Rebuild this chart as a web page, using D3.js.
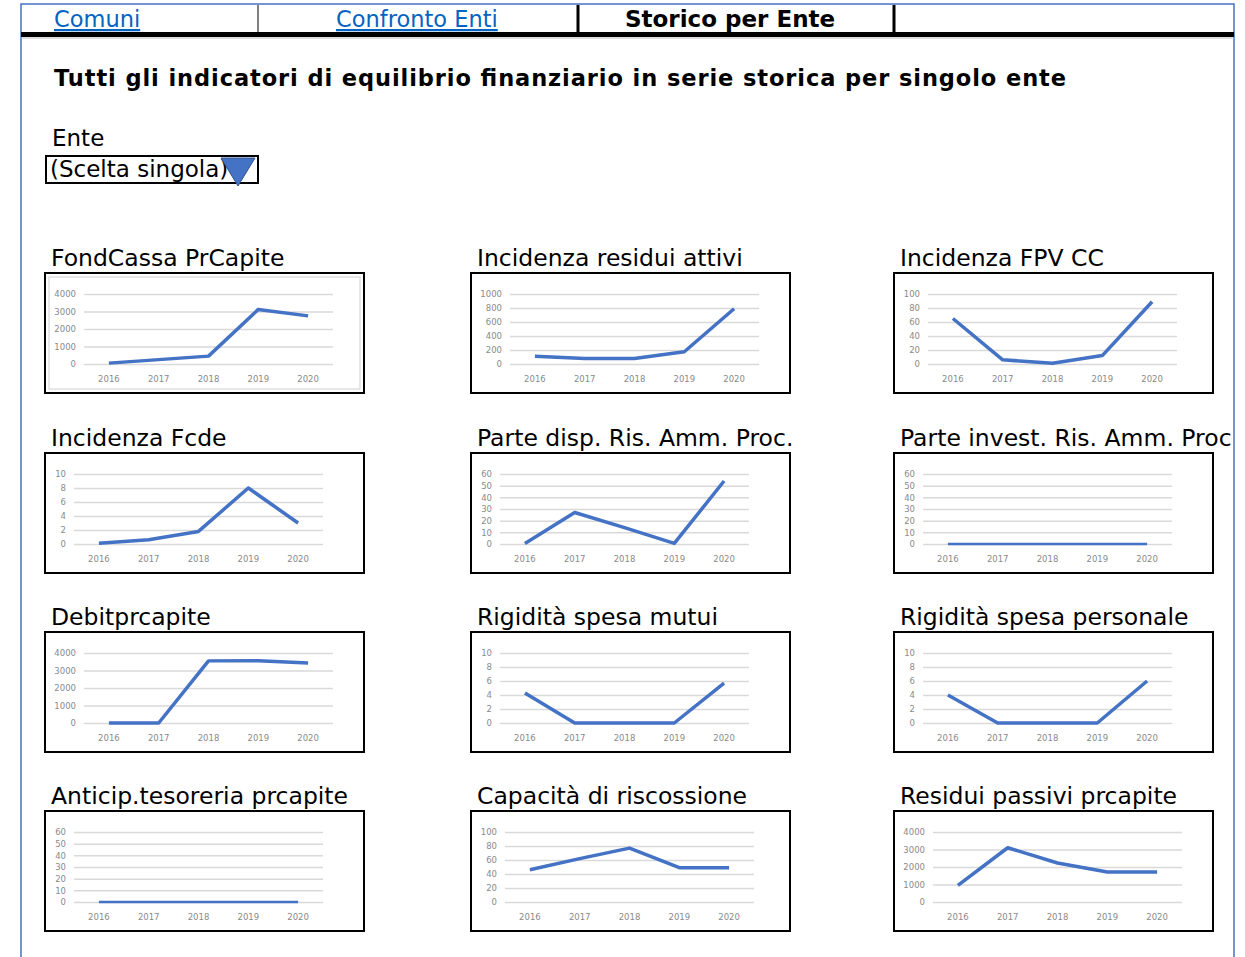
<!DOCTYPE html>
<html>
<head>
<meta charset="utf-8">
<script src="https://cdn.jsdelivr.net/npm/d3@7"></script>
<style>
  body { margin: 0; background: #fff; }
  svg { display: block; font-family: "DejaVu Sans", sans-serif; }
</style>
</head>
<body>
<div id="page"></div>
<script>
// Tabs and headings
const tabs = ["Comuni", "Confronto Enti", "Storico per Ente"];
const years = ["2016", "2017", "2018", "2019", "2020"];

// One title per small chart, read row by row
const titles = [
  "FondCassa PrCapite", "Incidenza residui attivi", "Incidenza FPV CC",
  "Incidenza Fcde", "Parte disp. Ris. Amm. Proc.", "Parte invest. Ris. Amm. Proc",
  "Debitprcapite", "Rigidità spesa mutui", "Rigidità spesa personale",
  "Anticip.tesoreria prcapite", "Capacità di riscossione", "Residui passivi prcapite"
];

// Series values
const fondCassa       = [50, 250, 450, 3120, 2750];
const residuiAttivi   = [110, 80, 80, 175, 790];
const fpvCC           = [65, 6, 1, 12, 89];
const fcde            = [0.1, 0.6, 1.8, 8.0, 3.0];
const parteDisp       = [0.5, 27, 14, 0.5, 54];
const parteInvest     = [0, 0, 0, 0, 0];
const debito          = [0, 0, 3550, 3560, 3430];
const rigMutui        = [4.3, 0, 0, 0, 5.7];
const rigPersonale    = [4.0, 0, 0, 0, 6.0];
const anticipTes      = [0, 0, 0, 0, 0];
const riscossione     = [46, 62, 77, 49, 49];
const residuiPassivi  = [950, 3100, 2230, 1710, 1710];

const series = [fondCassa, residuiAttivi, fpvCC, fcde, parteDisp, parteInvest,
  debito, rigMutui, rigPersonale, anticipTes, riscossione, residuiPassivi];

// Y axis maximum and tick step per chart
const yMax  = [4000, 1000, 100, 10, 60, 60, 4000, 10, 10, 60, 100, 4000];
const yStep = [1000, 200, 20, 2, 10, 10, 1000, 2, 2, 10, 20, 1000];

const W = 1245, H = 957;
const svg = d3.select("#page").append("svg")
  .attr("width", W).attr("height", H);

const blue = "#4472c4";

// Page frame
svg.append("path")
  .attr("d", `M21,${H} L21,4 L1234,4 L1234,${H}`)
  .attr("fill", "none").attr("stroke", blue).attr("stroke-width", 1.5);

// Tab bar
svg.append("rect").attr("x", 21).attr("y", 32).attr("width", 1213).attr("height", 5).attr("fill", "#000");
svg.append("line").attr("x1", 21).attr("x2", 1234).attr("y1", 38).attr("y2", 38).attr("stroke", "#bbb");
svg.append("line").attr("x1", 258).attr("x2", 258).attr("y1", 5).attr("y2", 33).attr("stroke", "#000").attr("stroke-width", 1);
[578, 894].forEach(x => {
  svg.append("line").attr("x1", x).attr("x2", x).attr("y1", 5).attr("y2", 33)
    .attr("stroke", "#000").attr("stroke-width", 3);
});

const tabX = [54, 336, 625];
tabs.forEach((t, i) => {
  const active = i === 2;
  svg.append("text")
    .attr("x", tabX[i]).attr("y", 27)
    .attr("font-size", active ? 23 : 22.5)
    .attr("font-weight", active ? "bold" : "normal")
    .attr("fill", active ? "#000" : "#0563c1")
    .attr("text-decoration", active ? "none" : "underline")
    .text(t);
});

// Heading
svg.append("text")
  .attr("x", 54).attr("y", 86)
  .attr("font-size", 22.5).attr("font-weight", "bold")
  .attr("textLength", 1012)
  .text("Tutti gli indicatori di equilibrio finanziario in serie storica per singolo ente");

// Selector
svg.append("text").attr("x", 52).attr("y", 146).attr("font-size", 23).text("Ente");
svg.append("rect").attr("x", 46).attr("y", 156).attr("width", 212).attr("height", 27)
  .attr("fill", "#fff").attr("stroke", "#000").attr("stroke-width", 2);
svg.append("text").attr("x", 50).attr("y", 177).attr("font-size", 23).text("(Scelta singola)");
svg.append("path").attr("d", "M221,158 L255,158 L238,186 Z")
  .attr("fill", blue).attr("stroke", "#2f528f").attr("stroke-width", 1);

// Small multiples
const colX = [45, 471, 894];
const rowY = [273, 453, 632, 811];
const boxW = 319, boxH = 120;
const fmt = d3.format("d");

series.forEach((values, i) => {
  const bx = colX[i % 3], by = rowY[Math.floor(i / 3)];

  svg.append("text")
    .attr("x", bx + 6).attr("y", by - 7)
    .attr("font-size", 23.5)
    .text(titles[i]);

  const g = svg.append("g").attr("transform", `translate(${bx},${by})`);
  g.append("rect").attr("width", boxW).attr("height", boxH)
    .attr("fill", "#fff").attr("stroke", "#000").attr("stroke-width", 2);
  if (i === 0) {
    g.append("rect").attr("x", 4).attr("y", 4).attr("width", boxW - 8).attr("height", boxH - 8)
      .attr("fill", "none").attr("stroke", "#d0d0d0").attr("stroke-width", 1);
  }

  const chars = fmt(yMax[i]).length;
  const left = 19 + 5 * chars;
  const x = d3.scaleBand().domain(years).range([left, left + 249]);
  const y = d3.scaleLinear().domain([0, yMax[i]]).range([91, 21]);
  const ticks = d3.range(0, yMax[i] + yStep[i] / 2, yStep[i]);

  // Gridlines
  g.append("g")
    .attr("transform", `translate(${left},0)`)
    .call(d3.axisLeft(y).tickValues(ticks).tickSize(-249).tickFormat(fmt).tickPadding(8))
    .call(a => a.select(".domain").remove())
    .call(a => a.selectAll("line").attr("stroke", "#d9d9d9").attr("stroke-width", 1.5))
    .call(a => a.selectAll("text").attr("fill", "#8a8a8a").attr("font-size", 8.5)
      .attr("font-family", "DejaVu Sans"));

  // Year labels
  g.append("g")
    .attr("transform", "translate(0,91)")
    .call(d3.axisBottom(x).tickSize(0).tickPadding(12))
    .call(a => a.select(".domain").remove())
    .call(a => a.selectAll("text").attr("fill", "#8a8a8a").attr("font-size", 8.5)
      .attr("font-family", "DejaVu Sans"));

  const line = d3.line()
    .x((d, j) => x(years[j]) + x.bandwidth() / 2)
    .y(d => y(d));

  g.append("path")
    .datum(values)
    .attr("fill", "none")
    .attr("stroke", blue)
    .attr("stroke-width", d3.max(values) === 0 ? 2.5 : 3.5)
    .attr("stroke-linejoin", "round")
    .attr("d", line);
});
</script>
</body>
</html>
